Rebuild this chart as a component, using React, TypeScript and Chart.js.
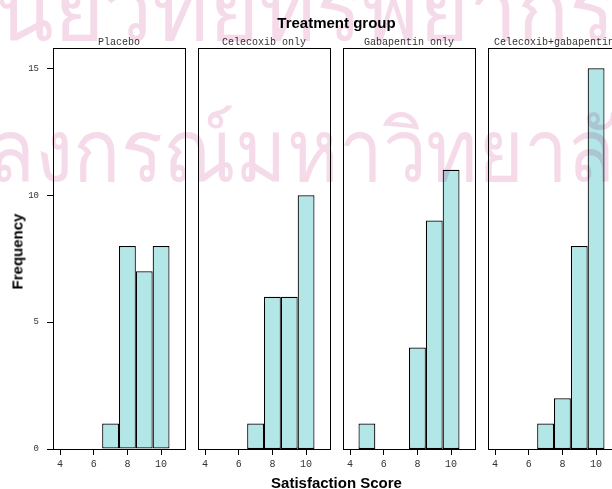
import React, { useEffect, useRef } from "react";
import { Chart, registerables } from "chart.js";

Chart.register(...registerables);

// ---- data ----
const groups = ["Placebo", "Celecoxib only", "Gabapentin only", "Celecoxib+gabapentin"];
const binCenters = [4, 5, 6, 7, 8, 9, 10, 11];
const placeboCounts = [0, 0, 0, 1, 8, 7, 8, 0];
const celecoxibCounts = [0, 0, 0, 1, 6, 6, 10, 0];
const gabapentinCounts = [0, 1, 0, 0, 4, 9, 11, 0];
const comboCounts = [0, 0, 0, 1, 2, 8, 15, 0];
const groupCounts = [placeboCounts, celecoxibCounts, gabapentinCounts, comboCounts];
const xTicks = [4, 6, 8, 10];
const yTicks = [0, 5, 10, 15];
const mainTitle = "Treatment group";
const xTitle = "Satisfaction Score";
const yTitle = "Frequency";
const watermarkLine1 = "ศูนย์วิทยทรัพยากร";
const watermarkLine2 = "จุฬาลงกรณ์มหาวิทยาลัย";

// ---- layout / style ----
const X_MIN = 3.58;
const X_MAX = 11.42;
const Y_MIN = 0;
const Y_MAX = 15.8;
const FRAME_TOP = 48;
const FRAME_BOTTOM = 449;
const PANEL_W = 132;
const PANEL_LEFTS = [53, 198, 343, 488];
const Y_AXIS_W = 53;
const X_AXIS_H = 30;
const PAD_TOP = 4;
const PAD_RIGHT = 4;
const BAR_FILL = "#b3e6e6";
const MONO = "'Liberation Mono', 'DejaVu Sans Mono', monospace";
const SANS = "'Liberation Sans', Arial, sans-serif";

const framePlugin = {
  id: "panelFrame",
  afterDatasetsDraw(chart: any) {
    const { ctx, chartArea: a } = chart;
    ctx.save();
    ctx.strokeStyle = "#000";
    ctx.lineWidth = 1;
    ctx.strokeRect(a.left + 0.5, a.top + 0.5, a.right - a.left, a.bottom - a.top);
    ctx.restore();
  },
};

function zeroPadding(s: any) {
  s.paddingTop = 0;
  s.paddingBottom = 0;
  s.paddingLeft = 0;
  s.paddingRight = 0;
}

function Panel({ index }: { index: number }) {
  const ref = useRef<HTMLCanvasElement | null>(null);
  const showY = index === 0;
  const yW = showY ? Y_AXIS_W : 0;
  const left = PANEL_LEFTS[index] - yW;
  const width = yW + PANEL_W + PAD_RIGHT;
  const top = FRAME_TOP - PAD_TOP;
  const height = FRAME_BOTTOM - top + X_AXIS_H;

  useEffect(() => {
    if (!ref.current) return;
    const counts = groupCounts[index];
    const data = binCenters
      .map((x, i) => ({ x, y: counts[i] }))
      .filter((d) => d.y > 0);
    const chart = new Chart(ref.current, {
      type: "bar",
      data: {
        datasets: [
          {
            label: groups[index],
            data,
            backgroundColor: BAR_FILL,
            borderColor: "#000",
            borderWidth: 1.2,
            borderSkipped: false,
            inflateAmount: 0,
            barPercentage: 1,
            categoryPercentage: 1,
          },
        ],
      },
      options: {
        animation: false,
        responsive: false,
        maintainAspectRatio: false,
        layout: { padding: { left: 0, top: PAD_TOP, right: PAD_RIGHT, bottom: 0 } },
        plugins: {
          legend: { display: false },
          tooltip: { enabled: false },
          title: { display: false },
        },
        scales: {
          x: {
            type: "linear",
            min: X_MIN,
            max: X_MAX,
            offset: false,
            afterBuildTicks: (s: any) => {
              s.ticks = xTicks.map((v) => ({ value: v }));
            },
            afterFit: (s: any) => {
              s.height = X_AXIS_H;
              zeroPadding(s);
            },
            grid: {
              display: true,
              drawOnChartArea: false,
              drawTicks: true,
              tickLength: 6,
              color: "#000",
              lineWidth: 1,
              offset: false,
            },
            border: { display: false },
            ticks: {
              font: { family: MONO, size: 10 },
              color: "#333",
              padding: 3,
              maxRotation: 0,
              autoSkip: false,
            },
          },
          y: {
            type: "linear",
            display: showY,
            min: Y_MIN,
            max: Y_MAX,
            afterBuildTicks: (s: any) => {
              s.ticks = yTicks.map((v) => ({ value: v }));
            },
            afterFit: (s: any) => {
              s.width = yW;
              zeroPadding(s);
            },
            grid: {
              display: true,
              drawOnChartArea: false,
              drawTicks: true,
              tickLength: 6,
              color: "#000",
              lineWidth: 1,
            },
            border: { display: false },
            ticks: {
              font: { family: MONO, size: 9 },
              color: "#333",
              padding: 8,
            },
          },
        },
      },
      plugins: [framePlugin],
    });
    return () => chart.destroy();
  }, [index]);

  return (
    <canvas
      ref={ref}
      width={width}
      height={height}
      style={{ position: "absolute", left, top, width, height }}
    />
  );
}

export default function App() {
  const watermarkStyle: React.CSSProperties = {
    position: "absolute",
    whiteSpace: "nowrap",
    fontFamily: "sans-serif",
    fontSize: 86,
    lineHeight: "86px",
    color: "#f5dbea",
    mixBlendMode: "multiply",
    pointerEvents: "none",
    transformOrigin: "0 0",
  };
  return (
    <div
      style={{
        position: "absolute",
        left: 0,
        top: 0,
        width: 612,
        height: 489,
        overflow: "hidden",
        background: "#fff",
      }}
    >
      {groups.map((g, i) => (
        <React.Fragment key={g}>
          <Panel index={i} />
          <div
            style={{
              position: "absolute",
              left: PANEL_LEFTS[i] + PANEL_W / 2,
              top: 38.3,
              transform: "translateX(-50%)",
              fontFamily: MONO,
              fontSize: 10,
              lineHeight: "10px",
              color: "#333",
              whiteSpace: "nowrap",
            }}
          >
            {g}
          </div>
        </React.Fragment>
      ))}
      <div
        style={{
          position: "absolute",
          left: 336.5,
          top: 15.3,
          transform: "translateX(-50%)",
          fontFamily: SANS,
          fontWeight: "bold",
          fontSize: 15,
          lineHeight: "15px",
          whiteSpace: "nowrap",
          color: "#000",
        }}
      >
        {mainTitle}
      </div>
      <div
        style={{
          position: "absolute",
          left: 336.5,
          top: 475.3,
          transform: "translateX(-50%)",
          fontFamily: SANS,
          fontWeight: "bold",
          fontSize: 15,
          lineHeight: "15px",
          whiteSpace: "nowrap",
          color: "#000",
        }}
      >
        {xTitle}
      </div>
      <div
        style={{
          position: "absolute",
          left: 17.2 - 60,
          top: 251 - 7.5,
          width: 120,
          height: 15,
          textAlign: "center",
          transform: "rotate(-90deg)",
          fontFamily: SANS,
          fontWeight: "bold",
          fontSize: 15,
          lineHeight: "15px",
          whiteSpace: "nowrap",
          color: "#000",
        }}
      >
        {yTitle}
      </div>
      <div style={{ ...watermarkStyle, left: -60, top: -33 }}>{watermarkLine1}</div>
      <div style={{ ...watermarkStyle, left: -156, top: 108, transform: "scaleX(0.91)" }}>
        {watermarkLine2}
      </div>
    </div>
  );
}
